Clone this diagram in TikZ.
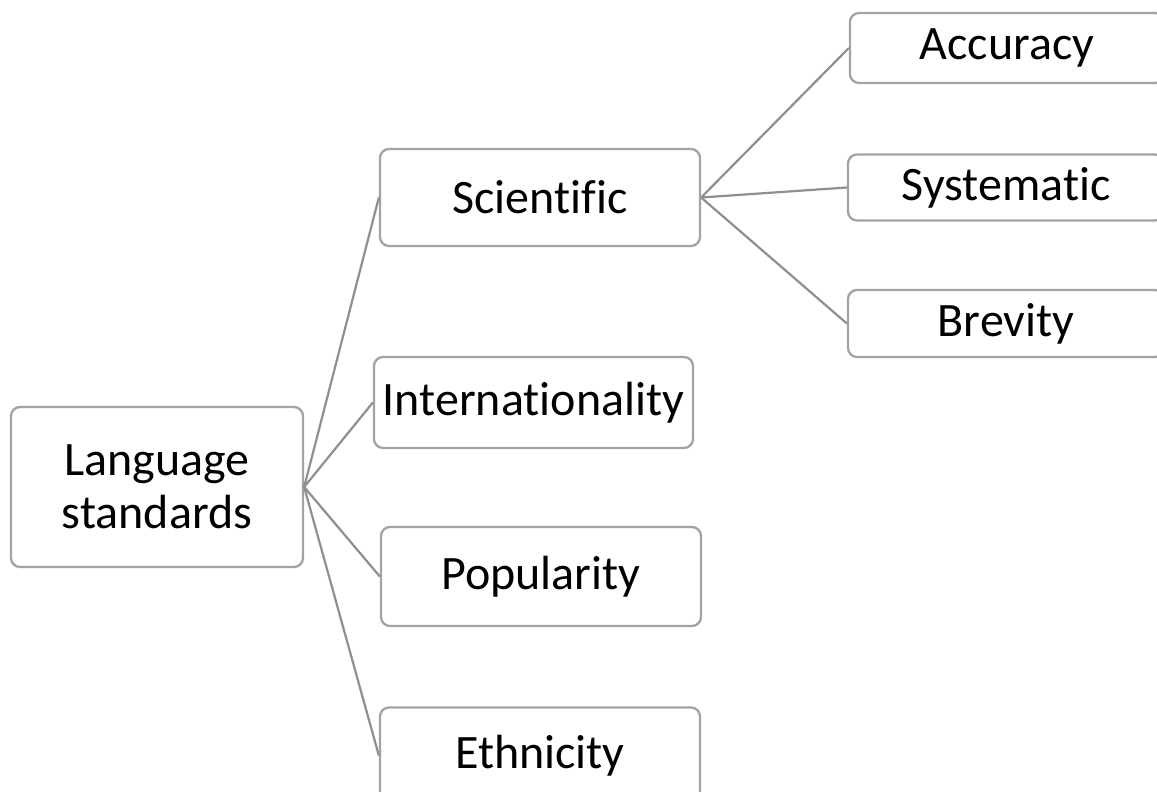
\documentclass[tikz,border=0pt]{standalone}
\usepackage{fontspec}
\setmainfont{Carlito}[Ligatures={NoCommon}]
\begin{document}
\begin{tikzpicture}[x=1pt,y=-1pt,
  box/.style={draw=boxgray,line width=2.3pt,rounded corners=9pt,fill=white,inner sep=0pt,align=center,
    font=\fontsize{48}{53}\selectfont},
  link/.style={draw=linegray,line width=2.2pt}]
\definecolor{boxgray}{HTML}{A3A3A3}
\definecolor{linegray}{HTML}{8F8F8F}
\useasboundingbox (0,0) rectangle (1157,792);
\fill[white] (0,0) rectangle (1157,792);
\node[box,minimum width=292pt,minimum height=160pt] (root) at (157,487) {Language\\standards};
\node[box,minimum width=320pt,minimum height=97pt] (sci) at (540,197.5) {Scientific};
\node[box,minimum width=319pt,minimum height=91pt] (int) at (533.5,402.5) {Internationality};
\node[box,minimum width=320pt,minimum height=99pt] (pop) at (541,576.5) {Popularity};
\node[box,minimum width=320pt,minimum height=96pt] (eth) at (540,755.5) {Ethnicity};
\node[box,minimum width=314pt,minimum height=70pt] (acc) at (1007,48) {Accuracy};
\node[box,minimum width=316pt,minimum height=66pt] (sys) at (1006,187.5) {Systematic};
\node[box,minimum width=316pt,minimum height=67pt] (bre) at (1006,323.5) {Brevity};
\foreach \c in {sci,int,pop,eth} \draw[link] (root.east) -- (\c.west);
\foreach \c in {acc,sys,bre} \draw[link] (sci.east) -- (\c.west);
\end{tikzpicture}
\end{document}
